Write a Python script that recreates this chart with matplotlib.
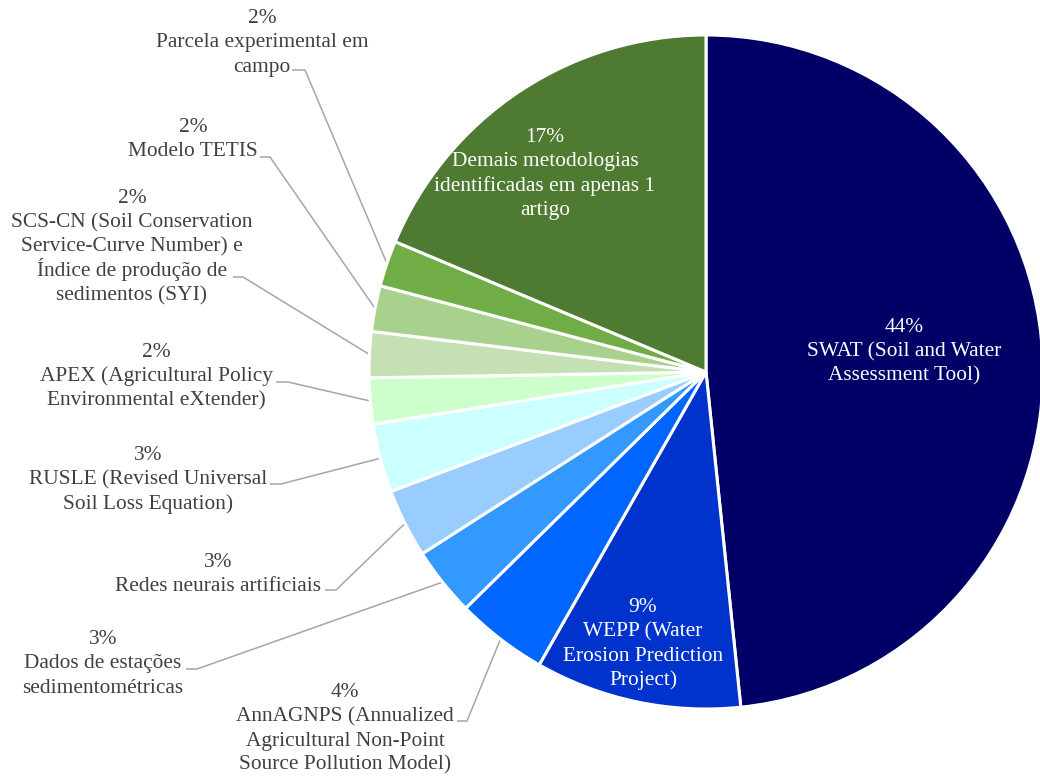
import numpy as np
import matplotlib
matplotlib.use("Agg")
import matplotlib.pyplot as plt

# ---- data ----
categories = [
    "SWAT (Soil and Water\nAssessment Tool)",
    "WEPP (Water\nErosion Prediction\nProject)",
    "AnnAGNPS (Annualized\nAgricultural Non-Point\nSource Pollution Model)",
    "Dados de estações\nsedimentométricas",
    "Redes neurais artificiais",
    "RUSLE (Revised Universal\nSoil Loss Equation)",
    "APEX (Agricultural Policy\nEnvironmental eXtender)",
    "SCS-CN (Soil Conservation\nService-Curve Number) e\nÍndice de produção de\nsedimentos (SYI)",
    "Modelo TETIS",
    "Parcela experimental em\ncampo",
    "Demais metodologias\nidentificadas em apenas 1\nartigo",
]
values = [44, 9, 4, 3, 3, 3, 2, 2, 2, 2, 17]
colors = ["#000066", "#0033CC", "#0066FF", "#3399FF", "#99CCFF", "#CCFFFF",
          "#CCFFCC", "#C5E0B4", "#A9D18E", "#70AD47", "#4E7A31"]

# ---- layout (pixel coords, y from top) ----
W, H = 1040, 776
center = (706, 372)
radius = 337
line_h = 24.3
# text x-center, first-line baseline
inside = {0: (904, 332), 1: (643, 612), 10: (545, 142)}
outside = {  # (text x-center, first baseline), leader start x, elbow x, leader y
    9: ((262, 23), 292, 305, 70),
    8: ((193, 132), 260, 270, 157),
    7: ((132, 203), 233, 243, 277),
    6: ((156, 357), 276, 288, 382),
    5: ((148, 460), 270, 281, 484),
    4: ((218, 567), 325, 336, 590),
    3: ((103, 644), 186, 197, 669),
    2: ((345, 697), 457, 467, 721),
}

plt.rcParams['font.family'] = ['Liberation Serif', 'DejaVu Serif']
fig = plt.figure(figsize=(W / 100, H / 100), dpi=100)
ax = fig.add_axes([0, 0, 1, 1])

def Y(y):
    return H - y

wedges, _ = ax.pie(values, colors=colors, startangle=90, counterclock=False,
                   center=(center[0], Y(center[1])), radius=radius, frame=True,
                   wedgeprops=dict(edgecolor='white', linewidth=2.2))
ax.set_xlim(0, W)
ax.set_ylim(0, H)
ax.set_aspect('equal')
ax.axis('off')

fs = 15.4

def block(x, b0, lines, color):
    for k, s in enumerate(lines):
        ax.text(x, Y(b0 + k * line_h), s, ha='center', va='baseline',
                color=color, fontsize=fs)

for i, (cat, v) in enumerate(zip(categories, values)):
    lines = [f"{v}%"] + cat.split("\n")
    if i in inside:
        x, b0 = inside[i]
        block(x, b0, lines, 'white')
    else:
        (tx, b0), x0, x1, ly = outside[i]
        block(tx, b0, lines, '#404040')
        w = wedges[i]
        mid = np.deg2rad((w.theta1 + w.theta2) / 2)
        ex = center[0] + radius * np.cos(mid)
        ey = Y(center[1]) + radius * np.sin(mid)
        ax.plot([x0, x1, ex], [Y(ly), Y(ly), ey], color='#A6A6A6', lw=1.1,
                solid_capstyle='butt', zorder=0.5)

fig.savefig("out.png", dpi=100, facecolor='white')
